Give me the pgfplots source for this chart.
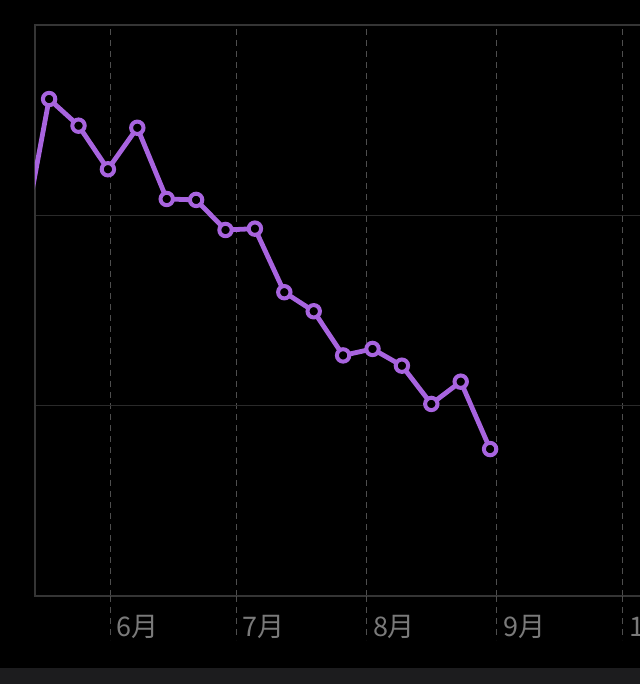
\documentclass[border=0pt]{standalone}
\usepackage{fontspec}
\usepackage{pgfplots}
\pgfplotsset{compat=1.18}
\newfontfamily\cjk{Noto Sans CJK SC}
\definecolor{linec}{HTML}{A864DF}
\definecolor{framec}{HTML}{353535}
\definecolor{gridc}{HTML}{2A2A2A}
\definecolor{dashc}{HTML}{4E4E4E}
\definecolor{labelc}{HTML}{7A7A7A}
\definecolor{barbg}{HTML}{1C1C1E}

\begin{document}
\begin{tikzpicture}
\useasboundingbox (0,0) rectangle (320pt,342pt);
\fill[black] (0,0) rectangle (320pt,342pt);
\clip (0,0) rectangle (320pt,342pt);
\fill[barbg] (0,0) rectangle (320pt,8pt);
\begin{axis}[
  at={(17.5pt,44pt)}, anchor=south west,
  scale only axis, width=307.5pt, height=285.5pt,
  xmin=-17.86, xmax=128.57, ymin=0, ymax=3,
  axis line style={draw=framec, line width=0.7pt},
  xtick={0,30,61,92,122}, xticklabels={6月,7月,8月,9月,10月},
  ytick={1,2}, yticklabels={},
  major tick length=0pt,
  xmajorgrids, ymajorgrids,
  x grid style={draw=dashc, dash pattern=on 3pt off 2.5pt, line width=0.5pt},
  y grid style={draw=gridc, line width=0.6pt},
  xticklabel style={anchor=base west, inner sep=0pt, xshift=3.2pt, yshift=-20pt,
    font=\cjk\fontsize{13.5}{16}\selectfont, text=labelc},
  clip mode=individual,
]
\addplot[linec, line width=2.4pt, mark=*, mark size=3.1pt,
  mark options={fill=black, draw=linec, line width=2pt}] coordinates {
  (-21.5,1.78) (-14.5,2.611) (-7.5,2.471) (-0.5,2.242) (6.5,2.460)
  (13.5,2.086) (20.5,2.081) (27.5,1.923) (34.5,1.930) (41.5,1.596)
  (48.5,1.496) (55.5,1.264) (62.5,1.298) (69.5,1.210) (76.5,1.009)
  (83.5,1.126) (90.5,0.772)};
\pgfplotsinvokeforeach{0,30,61,92,122}{
  \draw[dashc, dash pattern=on 3pt off 2.5pt, line width=0.5pt]
    (axis cs:#1,0) -- ([yshift=-22pt]axis cs:#1,0);}
\end{axis}
\end{tikzpicture}
\end{document}
